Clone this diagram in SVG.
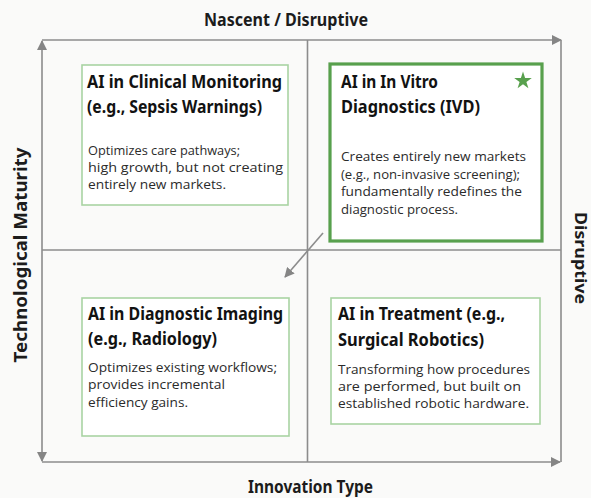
<svg xmlns="http://www.w3.org/2000/svg" width="591" height="498" viewBox="0 0 591 498">
  <defs>
    <marker id="tri" viewBox="0 0 10 10" refX="9" refY="5" markerWidth="10" markerHeight="10" markerUnits="userSpaceOnUse" orient="auto-start-reverse">
      <path d="M0,0 L10,5 L0,10 z" fill="#858585"/>
    </marker>
    <style>
      .axis { stroke: #8c8c8c; stroke-width: 1.6; fill: none; }
      .box { fill: #ffffff; stroke: #a9d4a3; stroke-width: 1.6; }
      .box-hl { fill: #ffffff; stroke: #58a04d; stroke-width: 3.2; }
      .title { font-family: "Noto Sans", "Open Sans", sans-serif; font-weight: 700; font-size: 18px; fill: #121212; }
      .body { font-family: "Open Sans", "Noto Sans", sans-serif; font-size: 13.5px; fill: #2b2b2b; }
      .axis-label { font-family: "Noto Sans", "Open Sans", sans-serif; font-weight: 700; font-size: 17px; fill: #1c1c1c; }
    </style>
  </defs>

  <rect x="0" y="0" width="591" height="498" fill="#fafaf9"/>

  <!-- frame, quadrant dividers and arrows -->
  <g id="connectors">
    <line class="axis" x1="42" y1="40" x2="561" y2="40" marker-end="url(#tri)"/>
    <line class="axis" x1="42" y1="462" x2="560" y2="462" marker-end="url(#tri)"/>
    <line class="axis" x1="42" y1="41" x2="42" y2="461" marker-start="url(#tri)" marker-end="url(#tri)"/>
    <line class="axis" x1="561" y1="40" x2="561" y2="462"/>
    <line class="axis" x1="307.5" y1="40" x2="307.5" y2="462"/>
    <line class="axis" x1="42" y1="250" x2="561" y2="250"/>
    <line class="axis" x1="323" y1="233" x2="285" y2="277" marker-end="url(#tri)"/>
  </g>

  <!-- axis labels -->
  <g id="axis-labels">
    <text class="axis-label" x="286" y="26" text-anchor="middle" textLength="164" lengthAdjust="spacingAndGlyphs">Nascent / Disruptive</text>
    <text class="axis-label" x="310.5" y="493" text-anchor="middle" textLength="125" lengthAdjust="spacingAndGlyphs">Innovation Type</text>
    <text class="axis-label" transform="translate(27 255) rotate(-90)" text-anchor="middle" textLength="215" lengthAdjust="spacingAndGlyphs">Technological Maturity</text>
    <text class="axis-label" style="font-size:16px" transform="translate(575 258) rotate(90)" text-anchor="middle" textLength="92" lengthAdjust="spacingAndGlyphs">Disruptive</text>
  </g>

  <!-- top-left quadrant -->
  <g id="clinical-monitoring">
    <rect class="box" x="82" y="65" width="206" height="140"/>
    <text class="title" x="87" y="88" textLength="195" lengthAdjust="spacingAndGlyphs">AI in Clinical Monitoring</text>
    <text class="title" x="87" y="113" textLength="175" lengthAdjust="spacingAndGlyphs">(e.g., Sepsis Warnings)</text>
    <text class="body" x="88" y="155" textLength="152" lengthAdjust="spacingAndGlyphs">Optimizes care pathways;</text>
    <text class="body" x="88" y="172" textLength="195" lengthAdjust="spacingAndGlyphs">high growth, but not creating</text>
    <text class="body" x="88" y="189" textLength="138" lengthAdjust="spacingAndGlyphs">entirely new markets.</text>
  </g>

  <!-- top-right quadrant (highlighted) -->
  <g id="in-vitro-diagnostics">
    <rect class="box-hl" x="330" y="64" width="212" height="177"/>
    <path d="M523,71.5 L525.1,77.9 L531.8,77.9 L526.4,81.9 L528.4,88.3 L523,84.3 L517.6,88.3 L519.6,81.9 L514.2,77.9 L520.9,77.9 z" fill="#58a04d"/>
    <text class="title" x="341" y="88" textLength="97" lengthAdjust="spacingAndGlyphs">AI in In Vitro</text>
    <text class="title" x="341" y="113" textLength="139" lengthAdjust="spacingAndGlyphs">Diagnostics (IVD)</text>
    <text class="body" x="341" y="161" textLength="185" lengthAdjust="spacingAndGlyphs">Creates entirely new markets</text>
    <text class="body" x="341" y="178.5" textLength="179" lengthAdjust="spacingAndGlyphs">(e.g., non-invasive screening);</text>
    <text class="body" x="341" y="196" textLength="181" lengthAdjust="spacingAndGlyphs">fundamentally redefines the</text>
    <text class="body" x="341" y="213.5" textLength="117" lengthAdjust="spacingAndGlyphs">diagnostic process.</text>
  </g>

  <!-- bottom-left quadrant -->
  <g id="diagnostic-imaging">
    <rect class="box" x="82" y="298" width="207" height="138"/>
    <text class="title" x="88" y="320" textLength="195" lengthAdjust="spacingAndGlyphs">AI in Diagnostic Imaging</text>
    <text class="title" x="88" y="345" textLength="129" lengthAdjust="spacingAndGlyphs">(e.g., Radiology)</text>
    <text class="body" x="88" y="372" textLength="189" lengthAdjust="spacingAndGlyphs">Optimizes existing workflows;</text>
    <text class="body" x="88" y="389" textLength="137" lengthAdjust="spacingAndGlyphs">provides incremental</text>
    <text class="body" x="88" y="407" textLength="100" lengthAdjust="spacingAndGlyphs">efficiency gains.</text>
  </g>

  <!-- bottom-right quadrant -->
  <g id="treatment">
    <rect class="box" x="331" y="298" width="209" height="126"/>
    <text class="title" x="338" y="320" textLength="167" lengthAdjust="spacingAndGlyphs">AI in Treatment (e.g.,</text>
    <text class="title" x="338" y="346" textLength="146" lengthAdjust="spacingAndGlyphs">Surgical Robotics)</text>
    <text class="body" x="338" y="374" textLength="192" lengthAdjust="spacingAndGlyphs">Transforming how procedures</text>
    <text class="body" x="338" y="391" textLength="183" lengthAdjust="spacingAndGlyphs">are performed, but built on</text>
    <text class="body" x="338" y="408" textLength="191" lengthAdjust="spacingAndGlyphs">established robotic hardware.</text>
  </g>
</svg>
